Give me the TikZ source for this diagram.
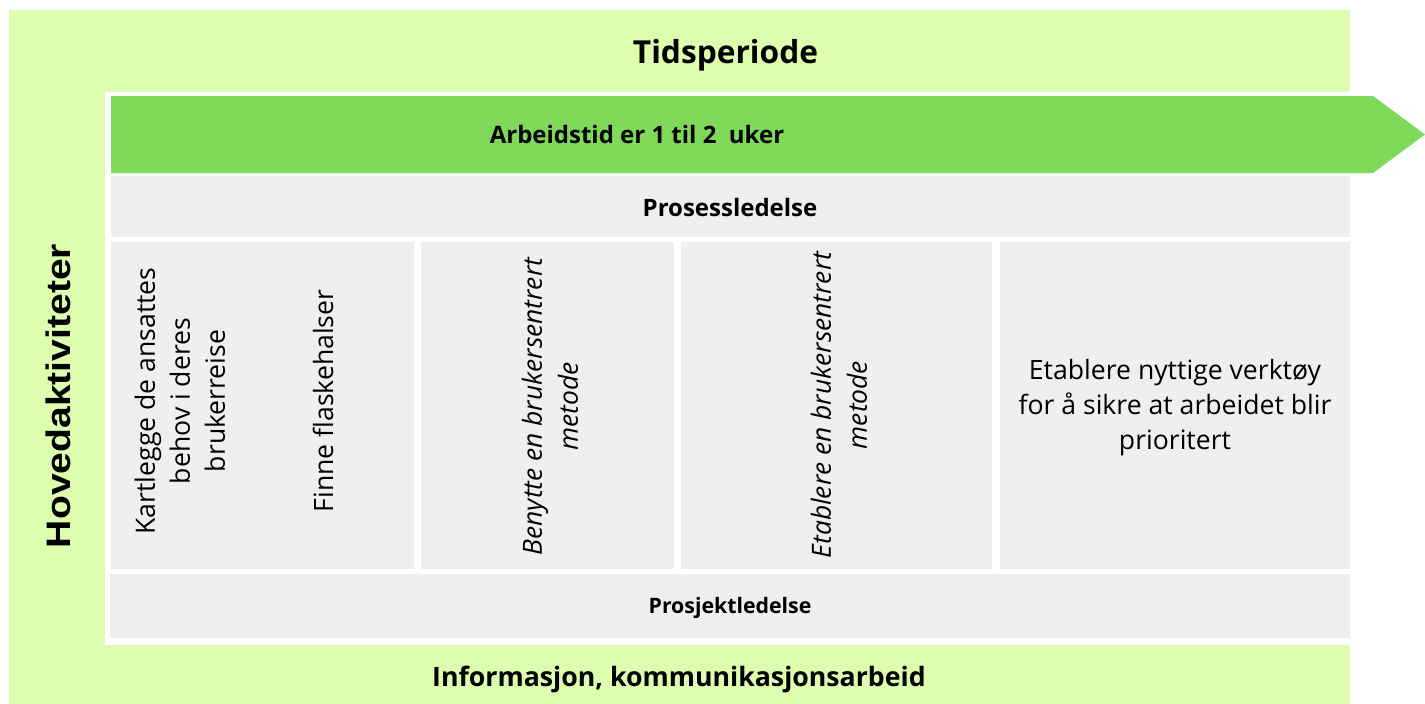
\documentclass[tikz,border=0pt]{standalone}
\usepackage{fontspec}
\setmainfont{Open Sans}
\newfontfamily\widearial{Liberation Sans}[FakeStretch=1.15]
\usepackage{tikz}
\usetikzlibrary{arrows}

\definecolor{lightgreen}{HTML}{DCFEAE}
\definecolor{arrowgreen}{HTML}{7FDA5A}
\definecolor{panelgray}{HTML}{EFEFEF}

\tikzset{
  headtxt/.style={font=\bfseries\fontsize{#1}{#1}\selectfont, inner sep=0pt, anchor=base},
  bodytxt/.style={font=\fontsize{26.6}{35}\selectfont, align=center, inner sep=0pt},
  italtxt/.style={font=\itshape\fontsize{26.4}{36}\selectfont, align=center, inner sep=0pt},
  panel/.style={fill=panelgray}
}

\begin{document}
\begin{tikzpicture}[x=1pt,y=-1pt]
\useasboundingbox (0,0) rectangle (1425,704);
% ramme
\fill [lightgreen] (9,10) rectangle (1350,704);
\fill [white] (105,92) rectangle (1350,645);
% tidsakse
\fill [arrowgreen] (111,96) -- (1373,96) -- (1425,134.5) -- (1373,173) -- (111,173) -- cycle;
% rader og kolonner
\fill [panel] (111,176) rectangle (1350,237);
\foreach \xa/\xb in {111/414, 421/674, 681/992, 1000/1350}
  \fill [panel] (\xa,242) rectangle (\xb,569);
\fill [panel] (110,574) rectangle (1350,638);
% tekster
\draw (725.5,63) node[headtxt=31.7] (tid) {Tidsperiode};
\draw (58,396) node[rotate=90, inner sep=0pt, font=\widearial\bfseries\fontsize{34}{34}\selectfont] (hoved) {Hovedaktiviteter};
\draw (637,143) node[headtxt=24] (arbeid) {Arbeidstid er 1 til 2~ uker};
\draw (730,216) node[headtxt=24] (prosess) {Prosessledelse};
\draw (180,401) node[bodytxt, rotate=90] (kartlegg) {Kartlegge de ansattes\\behov i deres\\brukerreise};
\draw (323,401) node[bodytxt, rotate=90] (finne) {Finne flaskehalser};
\draw (550,406.5) node[italtxt, rotate=90] (benytt) {Benytte en brukersentrert\\metode};
\draw (839,405) node[italtxt, rotate=90] (etabl) {Etablere en brukersentrert\\metode};
\draw (1175,408) node[bodytxt] (verktoy) {Etablere nyttige verktøy\\for å sikre at arbeidet blir\\prioritert};
\draw (730,613) node[headtxt=21.3] (prosjekt) {Prosjektledelse};
\draw (679,686) node[headtxt=26.7] (info) {Informasjon, kommunikasjonsarbeid};
\end{tikzpicture}
\end{document}
